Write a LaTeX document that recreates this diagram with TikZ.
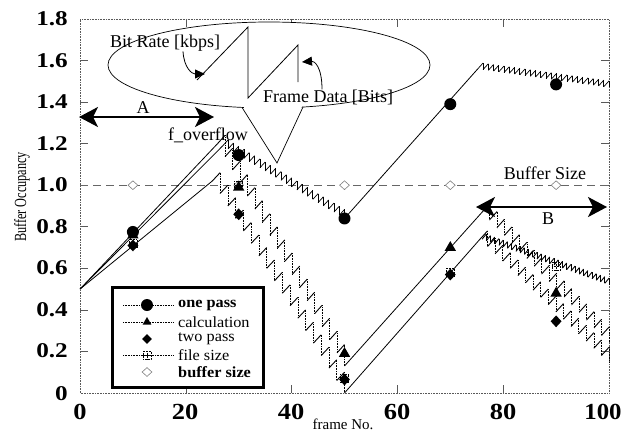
\documentclass[tikz,border=0pt]{standalone}
\usepackage{graphicx}
\usepackage{fontspec}
\setmainfont{Liberation Serif}
\usetikzlibrary{arrows.meta,shapes.geometric}

% one band of buffer teeth: linear fill (rise) followed by a vertical drop
% #1,#2 start  #3,#4 end  #5 teeth  #6 rise per tooth  #7 rise style  #8 drop style
\newcommand\sawteeth[8]{%
  \pgfmathsetmacro\stdx{(#3-#1)/#5}%
  \pgfmathsetmacro\stdy{(#4-#2)/#5}%
  \foreach \k in {1,...,#5}{%
    \pgfmathsetmacro\stxa{#1+(\k-1)*\stdx}%
    \pgfmathsetmacro\stya{#2+(\k-1)*\stdy}%
    \pgfmathsetmacro\stxb{\stxa+\stdx}%
    \pgfmathsetmacro\styb{\stya+#6}%
    \pgfmathsetmacro\styc{\stya+\stdy}%
    \draw[#7] (\stxa,\stya) -- (\stxb,\styb);%
    \draw[#8] (\stxb,\styb) -- (\stxb,\styc);%
  }}
\newcommand\widen[2]{\scalebox{#1}[1]{#2}}

\tikzset{
  axisline/.style={gray!70!black, densely dotted, line width=0.6pt},
  tickmark/.style={gray!70!black, line width=0.6pt},
  ylab/.style={anchor=east, font=\fontsize{21}{22}\selectfont\bfseries, inner sep=0pt},
  xlab/.style={font=\fontsize{23}{25}\selectfont\bfseries, inner sep=0pt},
  note/.style={font=\fontsize{18}{19}\selectfont, inner sep=0pt},
  curve/.style={line width=0.8pt},
  risestroke/.style={line width=0.9pt},
  dropstroke/.style={line width=0.6pt, densely dotted},
  solidtooth/.style={line width=0.7pt},
  bigarrow/.style={line width=2.6pt, {Stealth[length=19pt,width=20pt,inset=5pt]}-{Stealth[length=19pt,width=20pt,inset=5pt]}},
  mcirc/.style={circle, fill, inner sep=0pt, minimum size=12pt},
  mtri/.style={regular polygon, regular polygon sides=3, fill, inner sep=0pt, minimum size=13pt},
  mdia/.style={diamond, fill, inner sep=0pt, minimum width=11pt, minimum height=12pt},
  mopen/.style={diamond, draw=gray, fill=white, inner sep=0pt, minimum width=10pt, minimum height=9pt, line width=0.6pt},
  mfile/.style={rectangle, draw, densely dotted, inner sep=0pt, minimum size=8pt, line width=0.5pt,
    path picture={\draw[line width=0.5pt] (path picture bounding box.north) -- (path picture bounding box.south)
      (path picture bounding box.west) -- (path picture bounding box.east);}},
  legtext/.style={anchor=west, font=\fontsize{15.5}{16}\selectfont, inner sep=0pt},
  legbold/.style={legtext, font=\fontsize{15.5}{16}\selectfont\bfseries},
}

\begin{document}
\begin{tikzpicture}[x=1pt, y=-1pt]
\useasboundingbox (0,0) rectangle (624,437);
\fill[white] (0,0) rectangle (624,437);

% ---------- plot area in data units ----------
\begin{scope}[shift={(80pt,-393pt)}, x=5.29pt, y=207.8pt]
  \draw[axisline] (0,0) rectangle (100,1.8);
  \foreach \t in {0.2,0.4,0.6,0.8,1.0,1.2,1.4,1.6} {
    \draw[tickmark] (0,\t) -- ++(8pt,0);
    \draw[tickmark] (100,\t) -- ++(-8pt,0);
  }
  \foreach \t in {20,40,60,80} {
    \draw[tickmark] (\t,0) -- ++(0,8pt);
    \draw[tickmark] (\t,1.8) -- ++(0,-8pt);
  }

  % buffer size level
  \draw[gray!80!black, line width=0.6pt, dash pattern=on 8pt off 5pt] (0,1) -- (100,1);

  % one pass
  \draw[curve] (0,0.5) -- (27,1.19);
  \sawteeth{27}{1.19}{50}{0.84}{23}{0.028}{solidtooth}{solidtooth}
  \draw[curve] (50,0.84) -- (75.2,1.56);
  \sawteeth{75.2}{1.56}{100}{1.47}{25}{0.028}{solidtooth}{solidtooth}

  % calculation
  \draw[curve] (0,0.5) -- (26,1.2);
  \sawteeth{26}{1.2}{50}{0.13}{17}{0.04}{risestroke}{dropstroke}
  \draw[curve] (50,0.13) -- (76,0.87);
  \sawteeth{76}{0.87}{100}{0.24}{17}{0.04}{risestroke}{dropstroke}

  % two pass
  \draw[curve] (0,0.5) -- (25,1.02);
  \sawteeth{25}{1.02}{50}{0.0}{17}{0.04}{risestroke}{dropstroke}
  \draw[curve] (50,0.0) -- (75.6,0.74);
  \sawteeth{75.6}{0.74}{100}{0.145}{17}{0.04}{risestroke}{dropstroke}

  % file size
  \sawteeth{76}{0.74}{100}{0.52}{30}{0.025}{risestroke}{solidtooth}

  % markers
  \foreach \i/\xv/\yv in {1/10/1.0, 2/30/1.0, 3/50/1.0, 4/70/1.0, 5/90/1.0}
    \node[mopen] (bs\i) at (\xv,\yv) {};
  \foreach \i/\xv/\yv in {1/10/0.72, 2/30/1.0, 3/50/0.07, 4/70/0.58, 5/90/0.61}
    \node[mfile] (fs\i) at (\xv,\yv) {};
  \foreach \i/\xv/\yv in {1/10/0.71, 2/30/0.86, 3/50/0.065, 4/70/0.57, 5/90/0.345}
    \node[mdia] (tp\i) at (\xv,\yv) {};
  \foreach \i/\xv/\yv in {1/10/0.76, 2/30/0.99, 3/50/0.19, 4/70/0.70, 5/90/0.48}
    \node[mtri] (ca\i) at (\xv,\yv) {};
  \foreach \i/\xv/\yv in {1/10/0.775, 2/30/1.145, 3/50/0.84, 4/70/1.39, 5/90/1.485}
    \node[mcirc] (op\i) at (\xv,\yv) {};
\end{scope}

% ---------- axis labels ----------
\foreach \v/\py in {1.8/19, 1.6/61, 1.4/102, 1.2/144, 1.0/185, 0.8/227, 0.6/268, 0.4/310, 0.2/351, 0/394}
  \node[ylab] (yl\py) at (68,\py) {\widen{1.2}{\v}};
\foreach \v/\px in {0/80, 20/185, 40/291, 60/397, 80/503}
  \node[xlab] (xl\v) at (\px,412) {\widen{1.15}{\v}};
\node[xlab] (xl100) at (603,412) {\widen{1.08}{100}};
\node[font=\fontsize{15}{16}\selectfont, inner sep=0pt] (xtitle) at (343,424) {frame No.};
\node[rotate=90, font=\fontsize{17}{18}\selectfont, inner sep=0pt] (ytitle) at (22,197)
  {\widen{0.72}{Buffer Occupancy}};

% ---------- callout balloon ----------
\draw[line width=0.7pt, fill=white] (269,65) ellipse [x radius=161, y radius=43];
\fill[white] (242,104) -- (277,163) -- (303,104) -- cycle;
\draw[line width=0.7pt] (242,107.4) -- (277,163) -- (303,107);
\draw[line width=0.8pt] (197,80) -- (248,27) -- (248,98) -- (298,45) -- (298,82);
\node[note] (brate) at (165,43) {Bit Rate [kbps]};
\node[note] (fdata) at (328,97) {Frame Data [Bits]};
\coordinate (brtip) at (205,74);
\coordinate (fdtip) at (302,62);
\draw[line width=0.8pt, -{Triangle[length=10pt,width=9pt]}]
  (brate.south -| 183,0) .. controls (184,68) and (192,74) .. (brtip);
\draw[line width=0.8pt, -{Triangle[length=10pt,width=9pt]}]
  (fdata.north -| 322,0) .. controls (322,66) and (314,61) .. (fdtip);

% ---------- annotations ----------
\coordinate (aL) at (79,117);
\coordinate (aR) at (214,117);
\draw[bigarrow] (aL) -- (aR);
\node[note] (alab) at (143,108) {A};
\node[note] (fover) at (208,135) {f\_overflow};
\node[note] (bsize) at (545,173) {Buffer Size};
\coordinate (bL) at (476,207);
\coordinate (bR) at (607,207);
\draw[bigarrow] (bL) -- (bR);
\node[note] (blab) at (548,219) {B};

% ---------- legend ----------
\draw[line width=3pt, fill=white] (112,287) rectangle (263,387);
\draw[densely dotted, line width=0.6pt] (123,305) -- (173,305);
\node[mcirc] (lg1) at (147,305) {};
\node[legbold] (lt1) at (178,305) {\widen{1.05}{one pass}};
\draw[densely dotted, line width=0.6pt] (123,322) -- (173,322);
\node[mtri, minimum size=10pt] (lg2) at (147,322) {};
\node[legtext] (lt2) at (178,322) {\widen{1.05}{calculation}};
\node[mdia, minimum width=10pt, minimum height=10pt] (lg3) at (147,339) {};
\node[legtext] (lt3) at (178,339) {\widen{1.05}{two pass}};
\draw[densely dotted, line width=0.6pt] (123,355) -- (173,355);
\node[mfile] (lg4) at (147,355) {};
\node[legtext] (lt4) at (178,355) {\widen{1.05}{file size}};
\node[mopen] (lg5) at (147,372) {};
\node[legbold] (lt5) at (178,372) {\widen{1.05}{buffer size}};
\end{tikzpicture}
\end{document}
